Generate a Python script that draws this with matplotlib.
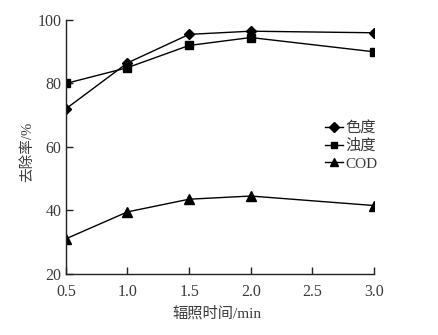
import matplotlib
matplotlib.use("Agg")
import matplotlib.pyplot as plt

plt.rcParams['font.family'] = ['Liberation Serif', 'Noto Sans CJK SC']

time_min = [0.5, 1.0, 1.5, 2.0, 3.0]
color_removal = [72, 86.5, 95.5, 96.5, 96]
turbidity_removal = [80, 85, 92, 94.5, 90]
cod_removal = [31, 39.5, 43.5, 44.5, 41.5]

x_ticks = [0.5, 1.0, 1.5, 2.0, 2.5, 3.0]
x_tick_labels = ['0.5', '1.0', '1.5', '2.0', '2.5', '3.0']
y_ticks = [20, 40, 60, 80, 100]

text_color = '#3a3a3a'

fig = plt.figure(figsize=(4.39, 3.35), dpi=100)
ax = fig.add_axes([0.150, 0.183, 0.702, 0.757])

line_kw = dict(color='black', linewidth=1.0, markerfacecolor='black',
               markeredgecolor='black')
ax.plot(time_min, color_removal, marker='D', markersize=5.5, label='色度', **line_kw)
ax.plot(time_min, turbidity_removal, marker='s', markersize=5.5, label='浊度', **line_kw)
ax.plot(time_min, cod_removal, marker='^', markersize=7, label='COD', **line_kw)

ax.set_xlim(0.5, 3.0)
ax.set_ylim(20, 100)
ax.set_xticks(x_ticks)
ax.set_xticklabels(x_tick_labels)
ax.set_yticks(y_ticks)

for side in ('top', 'right'):
    ax.spines[side].set_visible(False)
for side in ('left', 'bottom'):
    ax.spines[side].set_linewidth(1.0)
    ax.spines[side].set_color('#222222')

ax.tick_params(direction='in', length=5, width=1.0, color='#222222',
               labelsize=11.5, labelcolor=text_color)
ax.tick_params(axis='x', pad=7.5)
ax.tick_params(axis='y', pad=3)

ax.set_xlabel('辐照时间/min', fontsize=11, color=text_color)
ax.xaxis.set_label_coords(0.49, -0.126)
ax.set_ylabel('去除率/%', fontsize=10.5, color=text_color)
ax.yaxis.set_label_coords(-0.104, 0.48)

leg = ax.legend(loc='upper left', bbox_to_anchor=(0.82, 0.626), frameon=False,
                fontsize=11, handlelength=1.2, handletextpad=0.15,
                labelspacing=0.25, borderaxespad=0, markerscale=0.9)
for t in leg.get_texts():
    t.set_color(text_color)

fig.savefig('out.png', dpi=100)
